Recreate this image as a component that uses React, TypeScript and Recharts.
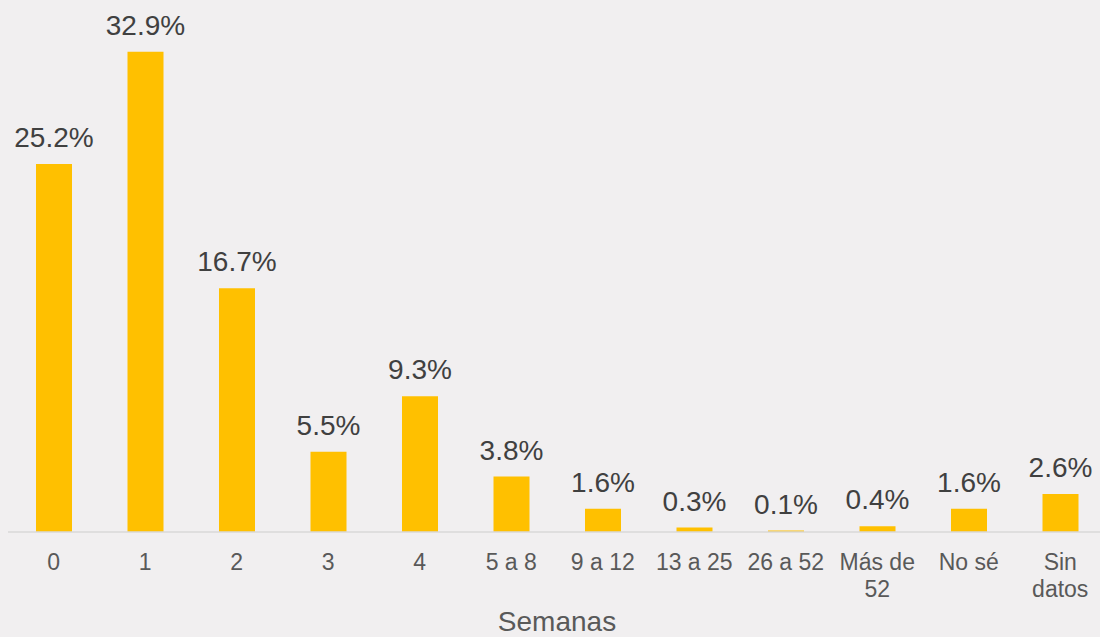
import React from 'react';
import { BarChart, Bar, XAxis, YAxis, LabelList } from 'recharts';

const categories = ['0', '1', '2', '3', '4', '5 a 8', '9 a 12', '13 a 25', '26 a 52', 'Más de 52', 'No sé', 'Sin datos'];
const values = [25.2, 32.9, 16.7, 5.5, 9.3, 3.8, 1.6, 0.3, 0.1, 0.4, 1.6, 2.6];
const axisTitle = 'Semanas';

const data = categories.map((c, i) => ({ name: c, value: values[i] }));

const FONT = '"Liberation Sans", Arial, sans-serif';
const BG = '#F1EFF0';
const TICK_SIZE = 23;
const TICK_WIDTH = 90;

if (typeof document !== 'undefined') {
  document.body.style.margin = '0';
  document.body.style.background = BG;
}

let ctx: CanvasRenderingContext2D | null = null;
function measure(s: string): number {
  if (typeof document === 'undefined') return s.length * TICK_SIZE * 0.55;
  if (!ctx) {
    const c = document.createElement('canvas');
    ctx = c.getContext('2d');
  }
  if (!ctx) return s.length * TICK_SIZE * 0.55;
  ctx.font = `${TICK_SIZE}px "Liberation Sans", Arial, sans-serif`;
  return ctx.measureText(s).width;
}

function wrap(text: string): string[] {
  const words = text.split(' ');
  const lines: string[] = [];
  let cur = '';
  for (const w of words) {
    const cand = cur ? `${cur} ${w}` : w;
    if (cur && measure(cand) > TICK_WIDTH) {
      lines.push(cur);
      cur = w;
    } else {
      cur = cand;
    }
  }
  if (cur) lines.push(cur);
  return lines;
}

const CustomTick = (props: any) => {
  const { x, y, payload } = props;
  const lines = wrap(String(payload.value));
  return (
    <text
      x={x}
      y={y}
      textAnchor="middle"
      fill="#595959"
      fontSize={TICK_SIZE}
      fontFamily={FONT}
    >
      {lines.map((l, i) => (
        <tspan key={i} x={x} dy={i === 0 ? '0.71em' : 27}>
          {l}
        </tspan>
      ))}
    </text>
  );
};

export default function App() {
  return (
    <div style={{ width: 1100, height: 637, background: BG, overflow: 'hidden', position: 'relative' }}>
      <BarChart
        width={1106}
        height={637}
        data={data}
        margin={{ top: 21, right: 0, left: 8, bottom: 0 }}
        barSize={36}
      >
        <YAxis hide domain={[0, 35]} />
        <XAxis
          dataKey="name"
          axisLine={{ stroke: '#D9D9D9', strokeWidth: 1.5 }}
          tickLine={false}
          tickSize={0}
          tickMargin={22}
          height={105}
          interval={0}
          tick={<CustomTick />}
          label={{
            value: axisTitle,
            position: 'insideBottom',
            offset: 6,
            fill: '#595959',
            fontSize: 28,
            fontFamily: FONT,
          }}
        />
        <Bar dataKey="value" fill="#FFC000" isAnimationActive={false}>
          <LabelList
            dataKey="value"
            position="top"
            offset={17}
            formatter={(v: any) => `${Number(v).toFixed(1)}%`}
            fill="#404040"
            fontSize={28}
            fontFamily={FONT}
          />
        </Bar>
      </BarChart>
    </div>
  );
}
